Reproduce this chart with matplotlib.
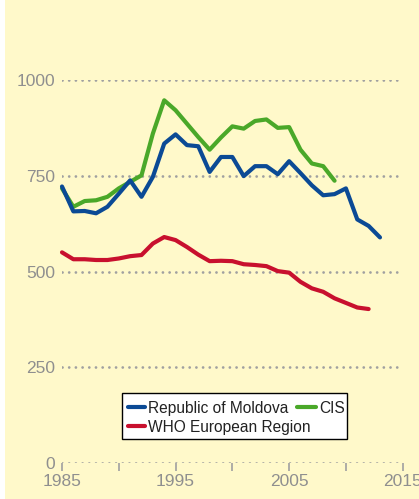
import matplotlib
matplotlib.use("Agg")
import matplotlib.pyplot as plt
from matplotlib.lines import Line2D
from matplotlib.patches import Rectangle

plt.rcParams['font.family'] = ['Liberation Sans Narrow', 'Liberation Sans', 'DejaVu Sans']

years_moldova = list(range(1985, 2014))
moldova = [722, 657, 658, 652, 669, 703, 738, 695, 747, 834, 858, 830, 827, 760, 799,
           799, 749, 775, 775, 754, 788, 757, 725, 699, 702, 717, 636, 619, 589]

years_cis = list(range(1985, 2010))
cis = [717, 669, 684, 686, 695, 717, 734, 751, 860, 947, 921, 886, 851, 818, 850,
       879, 873, 893, 897, 875, 877, 818, 782, 775, 737]

years_who = list(range(1985, 2013))
who = [550, 532, 532, 530, 530, 534, 540, 543, 573, 590, 582, 564, 544, 527, 528,
       527, 519, 517, 514, 501, 497, 473, 456, 447, 430, 418, 406, 402]

series_names = ['Republic of Moldova', 'CIS', 'WHO European Region']

yticks = [0, 250, 500, 750, 1000]
xticks_major = [1985, 1995, 2005, 2015]
xticks_minor = [1985, 1990, 1995, 2000, 2005, 2010, 2015]

BG = '#FFF9CA'
BLUE = '#0B4A95'
GREEN = '#4AA829'
RED = '#C8102E'
GRID = '#a0a0a0'
TXT = '#8f8f8f'

W, H = 419, 499
fig = plt.figure(figsize=(W / 100, H / 100), dpi=100, facecolor=BG)
fig.patches.append(Rectangle((0, 0), 5 / W, 1, transform=fig.transFigure,
                             facecolor='white', edgecolor='none', zorder=-10))
AX_L, AX_B, AX_W, AX_H = 62, 36, 340.7, 383
ax = fig.add_axes([AX_L / W, AX_B / H, AX_W / W, AX_H / H])
ax.set_facecolor(BG)
ax.set_xlim(1985, 2015)
ax.set_ylim(0, 1000)

for s in ax.spines.values():
    s.set_visible(False)

for v in yticks:
    ax.axhline(v, color=GRID, linestyle=(0, (0.01, 2.4)), linewidth=2.0, zorder=1,
               dash_capstyle='round')

ax.set_yticks(yticks)
ax.set_yticklabels([str(v) for v in yticks])
ax.tick_params(axis='y', length=0, pad=5, labelsize=12.5, labelcolor=TXT)
ax.set_xticks(xticks_major)
ax.set_xticklabels([str(v) for v in xticks_major])
ax.set_xticks(xticks_minor, minor=True)
ax.tick_params(axis='x', which='both', length=6, width=1.2, color=GRID,
               direction='out', labelsize=12.5, labelcolor=TXT, pad=2)

lw = 3.0
kw = dict(lw=lw, solid_capstyle='round', solid_joinstyle='round', clip_on=False)
ax.plot(years_moldova, moldova, color=BLUE, zorder=4, **kw)
ax.plot(years_cis, cis, color=GREEN, zorder=3, **kw)
ax.plot(years_who, who, color=RED, zorder=3, **kw)

# manual legend (positions in figure pixels from top-left)
def fx(px):
    return px / W

def fy(py):
    return 1 - py / H

fig.patches.append(Rectangle((fx(121.7), fy(438.7)), (347.3 - 121.7) / W, (438.7 - 392.7) / H,
                             transform=fig.transFigure, facecolor='white',
                             edgecolor='black', linewidth=1.0, zorder=5))
entries = [(series_names[0], BLUE, 127.7, 145.0, 148.3, 406.7),
           (series_names[1], GREEN, 296.7, 315.7, 319.3, 406.7),
           (series_names[2], RED, 127.7, 145.0, 148.3, 425.7)]
for name, col, x0, x1, tx, yy in entries:
    fig.lines.append(Line2D([fx(x0), fx(x1)], [fy(yy), fy(yy)], transform=fig.transFigure,
                            color=col, lw=lw, solid_capstyle='round', zorder=6))
    fig.text(fx(tx), fy(yy), name, ha='left', va='center_baseline', fontsize=11.2,
             color='#222222', zorder=7)

fig.savefig('out.png', dpi=100, facecolor=BG)
